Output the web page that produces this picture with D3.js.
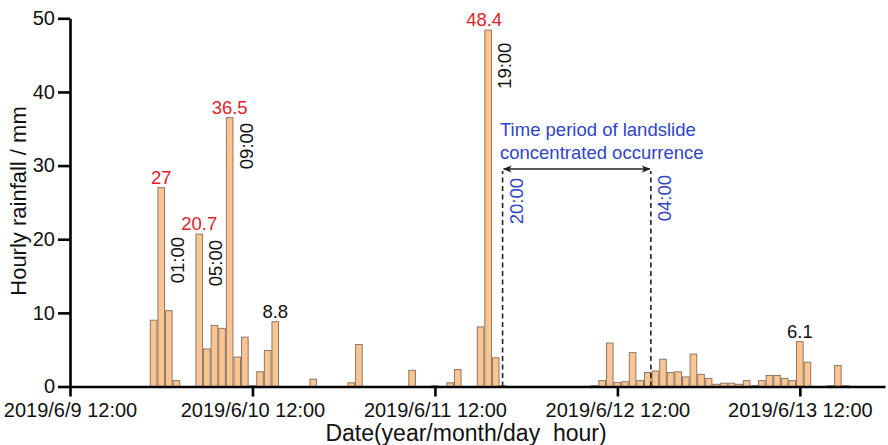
<!DOCTYPE html>
<html lang="en">
<head>
<meta charset="UTF-8">
<title>Hourly rainfall</title>
<script src="https://cdn.jsdelivr.net/npm/d3@7"></script>
<style>
  body { margin: 0; background: #fff; }
  svg { display: block; font-family: "Liberation Sans", Arial, sans-serif; }
</style>
</head>
<body>
<script>
    // hours counted from 2019/6/9 12:00, one bar per hour
    var hours = [11, 12, 13, 14, 17, 18, 19, 20, 21, 22, 23, 24, 25, 26, 27,
                 32, 37, 38, 45, 48, 50, 51, 54, 55, 56, 57,
                 69, 70, 71, 72, 73, 74, 75, 76, 77, 78, 79, 80, 81, 82, 83, 84,
                 85, 86, 87, 88, 89, 90, 91, 92, 93, 94, 95, 96, 97, 100, 101, 102];
    var rainfall = [9.0, 27, 10.3, 0.8, 20.7, 5.1, 8.3, 7.9, 36.5, 4.0, 6.7, 0.1, 2.0, 4.9, 8.8,
                    1.0, 0.5, 5.7, 2.2, 0.1, 0.5, 2.3, 8.1, 48.4, 3.9, 0.1,
                    0.1, 0.8, 5.9, 0.55, 0.65, 4.6, 0.8, 1.9, 2.1, 3.7, 1.9, 2.0, 1.3, 4.4, 1.65, 1.1,
                    0.3, 0.45, 0.45, 0.3, 0.8, 0.1, 0.8, 1.5, 1.5, 1.1, 0.8, 6.1, 3.3, 0.1, 2.85, 0.1];

    var xTickHours = [0, 24, 48, 72, 96];
    var yTicks = [0, 10, 20, 30, 40, 50];

    // peak values written above the bars (red = main peaks)
    var peakHours = [12, 17, 21, 55, 27, 96];
    var peakRed = [true, true, true, true, false, false];

    // rotated hour labels: [bar hour, text, top of label in mm]
    var timeLabels = [[12, "01:00", 20.3], [17, "05:00", 19.9], [21, "09:00", 35.8], [55, "19:00", 46.7]];

    // landslide period (hours from start) and its labels
    var period = [56.9, 76.4];
    var periodLabels = ["20:00", "04:00"];
    var periodText = ["Time period of landslide", "concentrated occurrence"];

    var W = 888, H = 445;
    var margin = {top: 18.3, right: 3, bottom: 58.5, left: 70};

    var start = new Date(2019, 5, 9, 12, 0);
    function at(h) { return new Date(start.getTime() + h * 3600000); }

    var svg = d3.select("body").append("svg")
        .attr("width", W)
        .attr("height", H);

    var x = d3.scaleTime()
        .domain([at(0), at(107.2)])
        .range([margin.left, W - margin.right]);

    var y = d3.scaleLinear()
        .domain([0, 50])
        .range([H - margin.bottom, margin.top]);

    var step = x(at(1)) - x(at(0));
    var red = "#dc2329", blue = "#2f45c6";

    // bars
    svg.append("g").selectAll("rect")
        .data(hours)
        .enter().append("rect")
        .attr("x", function (h) { return x(at(h - 0.5)) + 0.5; })
        .attr("width", step - 1)
        .attr("y", function (h, i) { return y(rainfall[i]); })
        .attr("height", function (h, i) { return y(0) - y(rainfall[i]); })
        .attr("fill", "#fbc591")
        .attr("stroke", "#8c7868")
        .attr("stroke-width", 1);

    // axes
    var fmt = d3.timeFormat("%Y/%-m/%-d %H:%M");
    var xAxis = svg.append("g")
        .attr("transform", "translate(0," + y(0) + ")")
        .call(d3.axisBottom(x)
            .tickValues(xTickHours.map(at))
            .tickFormat(fmt)
            .tickSize(10)
            .tickSizeOuter(0)
            .tickPadding(6));

    var yAxis = svg.append("g")
        .attr("transform", "translate(" + margin.left + ",0)")
        .call(d3.axisLeft(y)
            .tickValues(yTicks)
            .tickSize(12)
            .tickSizeOuter(0)
            .tickPadding(3));

    [xAxis, yAxis].forEach(function (a) {
        a.select(".domain").attr("stroke", "#000").attr("stroke-width", 2.6);
        a.selectAll(".tick line").attr("stroke", "#000").attr("stroke-width", 2.6);
        a.selectAll(".tick text")
            .attr("fill", "#111")
            .style("font-size", "20px")
            .style("font-family", "Liberation Sans, Arial, sans-serif");
    });

    // axis titles
    svg.append("text")
        .attr("x", 466)
        .attr("y", 441)
        .attr("text-anchor", "middle")
        .attr("fill", "#111")
        .style("font-size", "23px")
        .style("white-space", "pre")
        .text("Date(year/month/day  hour)");

    svg.append("text")
        .attr("transform", "translate(26,201) rotate(-90)")
        .attr("text-anchor", "middle")
        .attr("fill", "#111")
        .style("font-size", "22px")
        .text("Hourly rainfall / mm");

    // peak values
    peakHours.forEach(function (h, k) {
        var v = rainfall[hours.indexOf(h)];
        svg.append("text")
            .attr("x", x(at(h)) - (h === 55 ? 4 : 0))
            .attr("y", y(v) - 4)
            .attr("text-anchor", "middle")
            .attr("fill", peakRed[k] ? red : "#111")
            .style("font-size", "18.5px")
            .text(String(v));
    });

    // hour labels next to the peaks
    timeLabels.forEach(function (d) {
        svg.append("text")
            .attr("transform", "translate(" + (x(at(d[0])) + 16.5) + "," + y(d[2]) + ") rotate(-90)")
            .attr("text-anchor", "end")
            .attr("dy", "0.35em")
            .attr("fill", "#111")
            .style("font-size", "18.5px")
            .text(d[1]);
    });

    // landslide period
    var arrowY = 169;
    var defs = svg.append("defs");
    defs.append("marker")
        .attr("id", "head")
        .attr("viewBox", "0 0 10 10")
        .attr("refX", 9).attr("refY", 5)
        .attr("markerWidth", 9).attr("markerHeight", 9)
        .attr("markerUnits", "userSpaceOnUse")
        .attr("orient", "auto-start-reverse")
        .append("path")
        .attr("d", "M0,1 L10,5 L0,9 L2.5,5 Z")
        .attr("fill", "#222");

    period.forEach(function (h, k) {
        svg.append("line")
            .attr("x1", x(at(h))).attr("x2", x(at(h)))
            .attr("y1", y(0)).attr("y2", arrowY + 2)
            .attr("stroke", "#222")
            .attr("stroke-width", 1.6)
            .attr("stroke-dasharray", "5,3.5");

        svg.append("text")
            .attr("transform", "translate(" + (x(at(h)) + 13.5) + "," + (k === 0 ? 178 : 175) + ") rotate(-90)")
            .attr("text-anchor", "end")
            .attr("dy", "0.35em")
            .attr("fill", blue)
            .style("font-size", "18.5px")
            .text(periodLabels[k]);
    });

    svg.append("line")
        .attr("x1", x(at(period[0])) + 1).attr("x2", x(at(period[1])) - 1)
        .attr("y1", arrowY).attr("y2", arrowY)
        .attr("stroke", "#222")
        .attr("stroke-width", 1.6)
        .attr("marker-start", "url(#head)")
        .attr("marker-end", "url(#head)");

    periodText.forEach(function (t, k) {
        svg.append("text")
            .attr("x", 500)
            .attr("y", 136 + k * 23)
            .attr("fill", blue)
            .style("font-size", "18.5px")
            .text(t);
    });
</script>
</body>
</html>
